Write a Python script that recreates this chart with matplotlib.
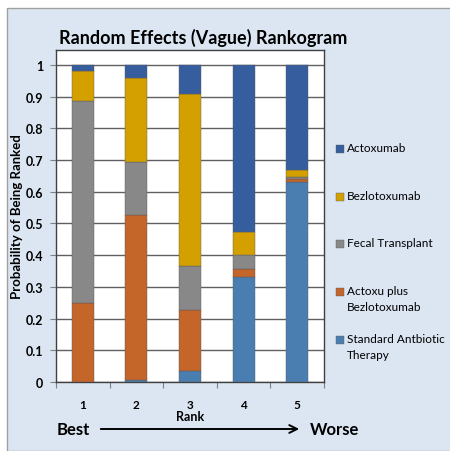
import matplotlib
import matplotlib.pyplot as plt
from matplotlib.patches import Rectangle
import numpy as np

matplotlib.use("Agg")
plt.rcParams['font.family'] = ['Lato', 'DejaVu Sans']

ranks = [1, 2, 3, 4, 5]
# bottom-up stacking order
treatments = ['Standard Antbiotic\nTherapy', 'Actoxu plus\nBezlotoxumab',
              'Fecal Transplant', 'Bezlotoxumab', 'Actoxumab']
standard = [0.0, 0.005, 0.034, 0.331, 0.632]
actoxu_plus = [0.25, 0.522, 0.192, 0.026, 0.007]
fecal = [0.635, 0.166, 0.14, 0.045, 0.007]
bezlo = [0.097, 0.267, 0.543, 0.07, 0.024]
actoxumab = [0.018, 0.04, 0.091, 0.528, 0.33]
colors = ['#4A7EB0', '#C4652A', '#888888', '#D4A000', '#365E9F']

series = [standard, actoxu_plus, fecal, bezlo, actoxumab]

W, H = 450, 452
fig = plt.figure(figsize=(W / 100, H / 100), dpi=100)
fig.patch.set_facecolor('white')

# light blue chart area like the Excel frame
fig.patches.append(Rectangle((7 / W, 0), 1, 1 - 9 / H, transform=fig.transFigure,
                             facecolor='#DCE6F2', edgecolor='#A0A0A0', linewidth=1, zorder=-1))

ax = fig.add_axes([56 / W, 1 - 383 / H, (324 - 56) / W, (383 - 51) / H])
ax.set_facecolor('white')

bottom = np.zeros(len(ranks))
for vals, col in zip(series, colors):
    ax.bar(ranks, vals, width=0.41, bottom=bottom, color=col,
           edgecolor='#5a5a5a', linewidth=0.3, zorder=3)
    bottom += np.array(vals)

ax.set_xlim(0.5, 5.5)
ax.set_ylim(0, 1.047)
ax.set_yticks(np.arange(0, 1.01, 0.1))
ax.set_yticklabels(['0', '0.1', '0.2', '0.3', '0.4', '0.5', '0.6', '0.7', '0.8', '0.9', '1'],
                   fontsize=9, fontweight='bold')
ax.yaxis.grid(True, color='#606060', linewidth=1, zorder=1)
ax.set_axisbelow(True)

# Excel style: tick marks between categories, labels centred
ax.set_xticks(np.arange(0.5, 5.6, 1))
ax.set_xticklabels([])
ax.set_xticks(ranks, minor=True)
ax.set_xticklabels([str(r) for r in ranks], minor=True, fontsize=8.5, fontweight='bold')
ax.tick_params(axis='x', which='minor', length=0, pad=12)
ax.tick_params(axis='x', which='major', length=4, color='#808080')
ax.tick_params(axis='y', length=4.3, color='#808080', pad=5)
for s in ax.spines.values():
    s.set_color('#404040')
    s.set_linewidth(1)

ax.set_ylabel('Probability of Being Ranked', fontsize=9.5, fontweight='bold', labelpad=2)
ax.set_xlabel('Rank', fontsize=9, fontweight='bold', labelpad=0)

fig.text(203 / W, 1 - 38 / H, 'Random Effects (Vague) Rankogram', ha='center', va='center',
         fontsize=13, fontweight='bold')

# Best -> Worse
fig.text(73 / W, 1 - 430 / H, 'Best', ha='center', va='center', fontsize=12, fontweight='bold')
fig.text(335 / W, 1 - 430 / H, 'Worse', ha='center', va='center', fontsize=12, fontweight='bold')
ax.annotate('', xy=(302 / W, 1 - 430 / H), xytext=(98 / W, 1 - 430 / H),
            xycoords='figure fraction', textcoords='figure fraction', annotation_clip=False,
            arrowprops=dict(arrowstyle='->', color='black', lw=1.4, mutation_scale=14))

# legend, top entry first
leg_y = [150, 198, 245, 293, 341]
for name, col, y in zip(treatments[::-1], colors[::-1], leg_y):
    fig.patches.append(Rectangle((336 / W, 1 - (y + 4) / H), 8 / W, 8 / H,
                                 transform=fig.transFigure, facecolor=col,
                                 edgecolor='#606060', linewidth=0.3, zorder=2))
    fig.text(347 / W, 1 - (y - 7) / H, name, ha='left', va='top', fontsize=8.5,
             linespacing=1.6)

fig.savefig('out.png', dpi=100)
